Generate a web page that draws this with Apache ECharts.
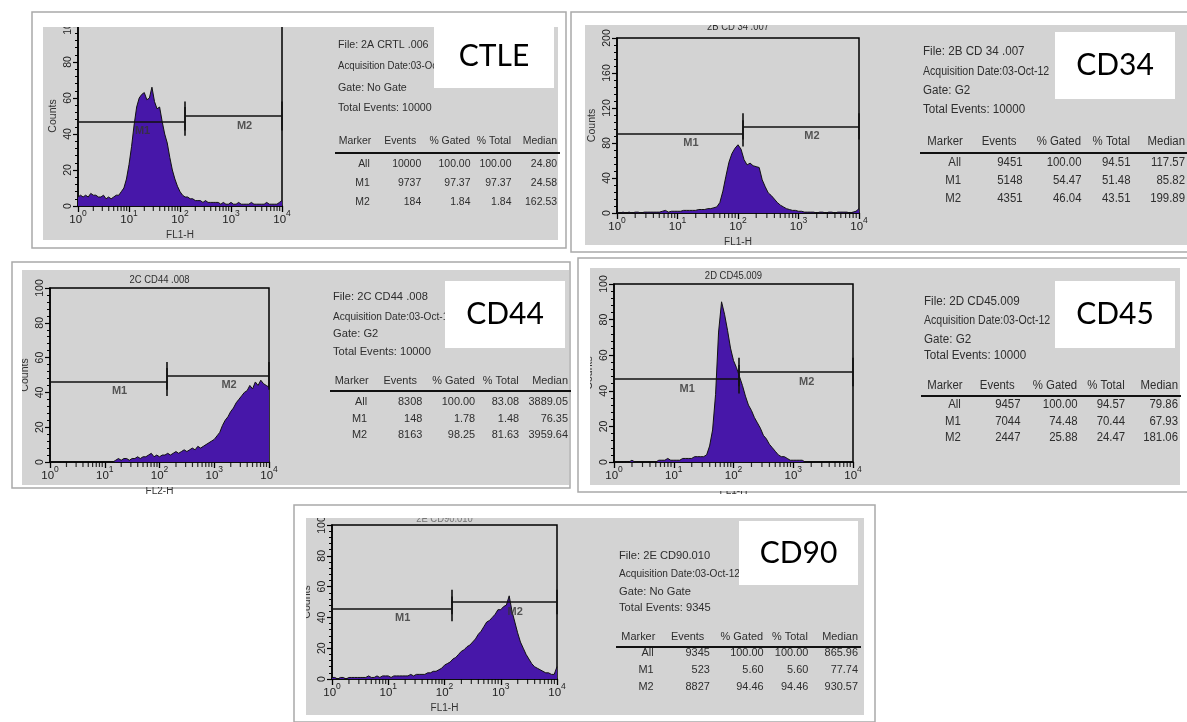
<!DOCTYPE html>
<html><head><meta charset="utf-8">
<script src="https://cdn.jsdelivr.net/npm/echarts@6/dist/echarts.min.js"></script>
<style>html,body{margin:0;padding:0;background:#fff}#c{width:1187px;height:722px}</style>
</head><body><div id="c"></div>
<script>
// ---------- DATA ----------
// channel positions, in decades (log10 of fluorescence)
const EXPONENTS = [0,0.05,0.1,0.15,0.2,0.25,0.3,0.35,0.4,0.45,0.5,0.55,0.6,0.65,0.7,0.75,0.8,0.85,0.9,0.95,
  1,1.05,1.1,1.15,1.2,1.25,1.3,1.35,1.4,1.45,1.5,1.55,1.6,1.65,1.7,1.75,1.8,1.85,1.9,1.95,
  2,2.05,2.1,2.15,2.2,2.25,2.3,2.35,2.4,2.45,2.5,2.55,2.6,2.65,2.7,2.75,2.8,2.85,2.9,2.95,
  3,3.05,3.1,3.15,3.2,3.25,3.3,3.35,3.4,3.45,3.5,3.55,3.6,3.65,3.7,3.75,3.8,3.85,3.9,3.95,4];
const X_TICK_EXP = [0,1,2,3,4];
const MINOR_LOG = [0.301,0.477,0.602,0.699,0.778,0.845,0.903,0.954];

const CTLE_COUNTS = [5,6,5,6,5,7,6,6,5,5,6,4,5,4,5,6,6,8,10,15,
  23,33,45,55,60,62,63,59,60,66,58,54,55,47,40,35,27,20,15,11,
  8,6,5,5,4,4,3,3,3,2,3,2,2,2,2,2,1,2,1,1,
  2,1,1,2,1,1,1,1,2,1,1,1,1,1,2,1,1,1,1,2,3];
const CD34_COUNTS = [1,0,1,0,1,0,1,1,0,1,1,1,1,1,1,2,3,1,2,2,
  2,2,3,3,3,3,3,4,4,4,5,5,6,7,12,25,42,58,68,74,
  78,73,61,55,57,54,53,52,38,30,23,20,16,12,9,7,5,4,3,3,
  2,2,1,1,1,1,0,1,1,0,1,1,0,1,1,1,1,0,1,2,5];
const CD44_COUNTS = [0,0,0,0,0,0,0,0,0,0,0,0,0,0,0,0,0,0,0,0,
  0,0,0,0,1,2,1,2,2,1,2,2,3,2,3,3,4,5,3,4,
  3,4,4,5,4,5,6,5,6,7,6,7,8,7,9,8,9,10,11,12,
  13,15,17,21,24,26,29,31,34,36,38,40,41,44,42,46,44,47,45,44,43];
const CD45_COUNTS = [0,0,0,0,0,0,1,0,0,0,0,0,0,0,0,1,1,1,2,1,
  1,1,1,2,2,2,2,3,3,3,3,4,9,18,38,73,90,83,74,64,
  57,53,48,43,37,32,29,25,22,19,15,13,10,8,6,4,3,3,2,1,
  1,1,1,1,0,0,0,0,0,0,0,0,0,0,0,0,0,0,0,0,0];
const CD90_COUNTS = [1,1,0,1,1,0,1,1,1,1,1,1,1,2,1,1,2,1,2,2,
  2,1,2,2,2,2,2,2,3,2,3,3,3,3,4,4,5,5,6,7,
  9,10,11,13,14,16,18,19,21,22,24,26,29,31,34,37,38,40,42,45,
  45,47,48,54,44,37,30,24,20,16,13,10,8,7,6,5,4,4,3,3,8];

// gates: [name, from (decade), to (decade), level (counts)]
const CTLE_GATES = [['M1',0,2.1,47],['M2',2.1,4,50]];
const CD34_GATES = [['M1',0,2.08,91],['M2',2.08,4,99]];
const CD44_GATES = [['M1',0,2.14,46],['M2',2.14,4,49.5]];
const CD45_GATES = [['M1',0,2.08,46.5],['M2',2.08,4,50.5]];
const CD90_GATES = [['M1',0,2.12,45.5],['M2',2.12,4,50]];

const TABLE_HEAD = ['Marker','Events','% Gated','% Total','Median'];
const CTLE_STATS = [['All','10000','100.00','100.00','24.80'],['M1','9737','97.37','97.37','24.58'],['M2','184','1.84','1.84','162.53']];
const CD34_STATS = [['All','9451','100.00','94.51','117.57'],['M1','5148','54.47','51.48','85.82'],['M2','4351','46.04','43.51','199.89']];
const CD44_STATS = [['All','8308','100.00','83.08','3889.05'],['M1','148','1.78','1.48','76.35'],['M2','8163','98.25','81.63','3959.64']];
const CD45_STATS = [['All','9457','100.00','94.57','79.86'],['M1','7044','74.48','70.44','67.93'],['M2','2447','25.88','24.47','181.06']];
const CD90_STATS = [['All','9345','100.00','100.00','865.96'],['M1','523','5.60','5.60','77.74'],['M2','8827','94.46','94.46','930.57']];

const CTLE_INFO = ['File: 2A CRTL .006','Acquisition Date:03-Oct-12','Gate: No Gate','Total Events: 10000'];
const CD34_INFO = ['File: 2B CD 34 .007','Acquisition Date:03-Oct-12','Gate: G2','Total Events: 10000'];
const CD44_INFO = ['File: 2C CD44 .008','Acquisition Date:03-Oct-12','Gate: G2','Total Events: 10000'];
const CD45_INFO = ['File: 2D CD45.009','Acquisition Date:03-Oct-12','Gate: G2','Total Events: 10000'];
const CD90_INFO = ['File: 2E CD90.010','Acquisition Date:03-Oct-12','Gate: No Gate','Total Events: 9345'];

const PANEL_LABELS = ['CTLE','CD34','CD44','CD45','CD90'];
const PLOT_TITLES = ['','2B CD 34 .007','2C CD44 .008','2D CD45.009','2E CD90.010'];
const X_NAMES = ['FL1-H','FL1-H','FL2-H','FL1-H','FL1-H'];
const Y_NAME = 'Counts';
const Y_MAX = [100,200,100,100,100];
const Y_STEP = [20,40,20,20,20];

// ---------- LAYOUT (positions / styles only) ----------
const LAYOUT = [
  {frame:[32,12,534,236], gray:[43,27,515,213], grid:[78,26,204,180], tick:8, titleY:14,
   table:{x:338,w:219,fs:11,info:[45,66,88,108],head:141,rule:153,rows:[164,183,202]}, box:[434,25,120,63]},
  {frame:[571,12,630,240], gray:[585,25,620,220], grid:[617,38,242,175], tick:15, titleY:27,
   table:{x:923,w:262,fs:12,info:[52,72,91,110],head:142,rule:153,rows:[163,181,199]}, box:[1055,32,120,67]},
  {frame:[12,262,558,226], gray:[22,270,547,215], grid:[50,288,219,174], tick:8, titleY:280,
   table:{x:333,w:235,fs:11.5,info:[297,317,334,352],head:381,rule:391,rows:[402,419,435]}, box:[445,281,120,67]},
  {frame:[578,258,630,234], gray:[590,268,590,217], grid:[614,284,239,178], tick:8, titleY:276,
   table:{x:924,w:254,fs:12,info:[302,321,340,356],head:386,rule:396,rows:[405,422,438]}, box:[1055,281,120,67]},
  {frame:[294,505,581,217], gray:[306,518,558,197], grid:[332,525,225,154], tick:8, titleY:519,
   table:{x:619,w:239,fs:11.5,info:[556,574,592,608],head:637,rule:647,rows:[653,670,687]}, box:[739,521,119,64]}
];
const HEAD_POS = [0.152,0.357,0.603,0.79,1.0];
const VAL_POS = [0.145,0.38,0.605,0.792,1.0];

const COUNTS = [CTLE_COUNTS, CD34_COUNTS, CD44_COUNTS, CD45_COUNTS, CD90_COUNTS];
const GATES = [CTLE_GATES, CD34_GATES, CD44_GATES, CD45_GATES, CD90_GATES];
const STATS = [CTLE_STATS, CD34_STATS, CD44_STATS, CD45_STATS, CD90_STATS];
const INFOS = [CTLE_INFO, CD34_INFO, CD44_INFO, CD45_INFO, CD90_INFO];

const SANS = '"Liberation Sans",Arial,sans-serif';
const PURPLE = '#4717a9';
const GRAY = '#d3d3d3';

const grids = [], xAxes = [], yAxes = [], series = [], graphics = [];

function text(x, y, s, fs, align, z, sx, fill) {
  return {type:'text', x:x, y:y, z:z||50, silent:true, scaleX: sx||1,
    style:{text:s, fill: fill || '#2e2e2e', font: fs + 'px ' + SANS, align: align||'left', verticalAlign:'middle'}};
}

LAYOUT.forEach((L, i) => {
  const [gl, gt, gw, gh] = L.grid;
  grids.push({left:gl, top:gt, width:gw, height:gh, show:true, borderColor:'#000', borderWidth:1.5, backgroundColor:'transparent', containLabel:false});
  xAxes.push({
    gridIndex:i, type:'value', min:0, max:4, interval:1,
    name: X_NAMES[i], nameLocation:'middle', nameGap:24,
    nameTextStyle:{fontFamily:SANS, fontSize:10, color:'#333'},
    axisLine:{lineStyle:{color:'#000', width:1.5}},
    axisTick:{show:true, length:6, lineStyle:{color:'#000', width:1.3}},
    splitLine:{show:false},
    axisLabel:{margin:3, color:'#222', formatter: v => X_TICK_EXP.indexOf(v) >= 0 ? '{b|10}{s|' + v + '}' : '',
      rich:{b:{fontFamily:SANS, fontSize:11.5, lineHeight:17, verticalAlign:'bottom', color:'#222'},
            s:{fontFamily:SANS, fontSize:8.5, lineHeight:17, verticalAlign:'top', color:'#222'}}}
  });
  yAxes.push({
    gridIndex:i, type:'value', min:0, max:Y_MAX[i], interval:Y_STEP[i],
    name: Y_NAME, nameLocation:'middle', nameGap:19, nameRotate:90,
    nameTextStyle:{fontFamily:SANS, fontSize:10.5, color:'#333'},
    axisLine:{show:true, lineStyle:{color:'#000', width:1.5}},
    axisTick:{show:true, length:5, lineStyle:{color:'#000', width:1.2}},
    minorTick:{show:true, splitNumber:5, length:3, lineStyle:{color:'#000', width:1}},
    splitLine:{show:false},
    axisLabel:{rotate:90, margin:4, fontFamily:SANS, fontSize:10.5, color:'#222'}
  });
  // histogram
  series.push({
    type:'line', xAxisIndex:i, yAxisIndex:i, z:3, silent:true, symbol:'none', animation:false,
    data: EXPONENTS.map((e, k) => [e, COUNTS[i][k]]),
    lineStyle:{color:'#111', width:1},
    areaStyle:{color:PURPLE, opacity:1}
  });
  // log minor ticks on x axis
  const minor = [];
  X_TICK_EXP.slice(0, 4).forEach(d => MINOR_LOG.forEach(m => minor.push([d + m, 0])));
  series.push({
    type:'scatter', xAxisIndex:i, yAxisIndex:i, z:6, silent:true, clip:false, animation:false,
    symbol:'rect', symbolSize:[1.2, 5], symbolOffset:[0, 2.5], itemStyle:{color:'#000'}, data:minor
  });
  // gate markers
  const segs = [];
  GATES[i].forEach(g => {
    const [, a, b, lv] = g;
    segs.push({coords:[[a, lv],[b, lv]]});
    segs.push({coords:[[a, lv - L.tick],[a, lv + L.tick]]});
    segs.push({coords:[[b, lv - L.tick],[b, lv + L.tick]]});
  });
  series.push({
    type:'lines', coordinateSystem:'cartesian2d', xAxisIndex:i, yAxisIndex:i, z:7, silent:true, animation:false,
    lineStyle:{color:'#111', width:1.6, opacity:1}, data:segs
  });
  series.push({
    type:'scatter', xAxisIndex:i, yAxisIndex:i, z:8, silent:true, animation:false, symbolSize:2,
    itemStyle:{color:'rgba(0,0,0,0)'},
    data: GATES[i].map(g => ({name:g[0], value:[(g[1] + g[2]) / 2, g[3]]})),
    label:{show:true, position:'bottom', distance:3, offset:[11, 0], formatter:'{b}',
      fontFamily:SANS, fontSize:11, fontWeight:'bold', color:'#333'}
  });

  // backgrounds
  const [fx, fy, fw, fh] = L.frame;
  const [bx, by, bw, bh] = L.gray;
  graphics.push({type:'rect', z:-20, silent:true, shape:{x:fx, y:fy, width:fw, height:fh},
    style:{fill:'#fff', stroke:'#a9a9a9', lineWidth:1.5}});
  graphics.push({type:'rect', z:-19, silent:true, shape:{x:bx, y:by, width:bw, height:bh}, style:{fill:GRAY}});
  // plot title (partly hidden by crop)
  if (PLOT_TITLES[i]) graphics.push(text(gl + gw / 2, L.titleY, PLOT_TITLES[i], 10.5, 'center', 20, 0.9, i === 4 ? '#777' : '#2e2e2e'));
  // masks: white margin of the frame (crop edges)
  const mstyle = {fill:'#fff'};
  graphics.push({type:'rect', z:40, silent:true, shape:{x:fx + 1, y:fy + 1, width:fw - 2, height:by - fy - 1}, style:mstyle});
  graphics.push({type:'rect', z:40, silent:true, shape:{x:fx + 1, y:by + bh, width:fw - 2, height:fy + fh - by - bh - 1}, style:mstyle});
  graphics.push({type:'rect', z:40, silent:true, shape:{x:fx + 1, y:fy + 1, width:bx - fx - 1, height:fh - 2}, style:mstyle});
  // info lines (acquisition line is condensed in the original)
  const T = L.table;
  INFOS[i].forEach((s, k) => graphics.push(text(T.x, T.info[k], s, T.fs, 'left', 50, k === 1 ? 0.88 : 0.97)));
  TABLE_HEAD.forEach((s, k) => graphics.push(text(T.x + HEAD_POS[k] * T.w, T.head, s, T.fs, 'right', 50, 0.95)));
  graphics.push({type:'line', z:50, silent:true, shape:{x1:T.x - 3, y1:T.rule, x2:T.x + T.w + 3, y2:T.rule},
    style:{stroke:'#111', lineWidth:2}});
  STATS[i].forEach((row, r) => row.forEach((s, k) =>
    graphics.push(text(T.x + VAL_POS[k] * T.w, T.rows[r], s, T.fs, 'right', 50, 0.95))));
  // label box
  const [kx, ky, kw, kh] = L.box;
  graphics.push({type:'rect', z:60, silent:true, shape:{x:kx, y:ky, width:kw, height:kh}, style:{fill:'#fff'}});
  graphics.push({type:'text', z:61, silent:true, x:kx + kw / 2, y:ky + kh / 2,
    style:{text:PANEL_LABELS[i], fill:'#000', font:'30px Lato, "Open Sans", sans-serif', align:'center', verticalAlign:'middle'}});
});

const chart = echarts.init(document.getElementById('c'), null, {renderer:'canvas'});
chart.setOption({
  animation:false,
  backgroundColor:'#fff',
  grid:grids, xAxis:xAxes, yAxis:yAxes, series:series,
  graphic:{elements:graphics}
});
</script></body></html>
